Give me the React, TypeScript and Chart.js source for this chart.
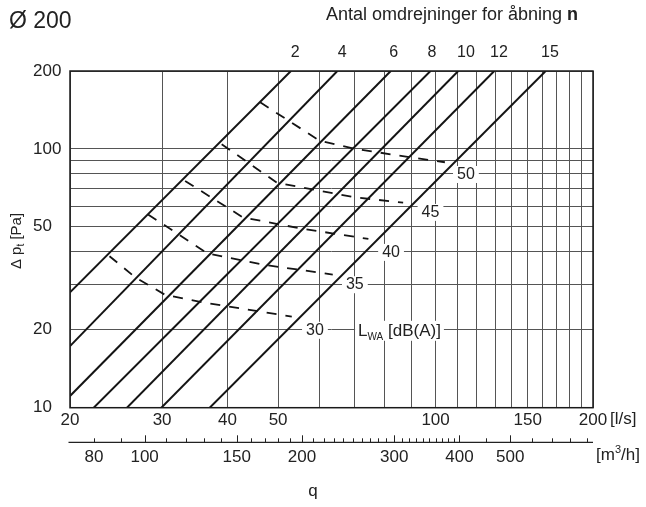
import React, { useEffect, useRef } from 'react';
import { Chart, registerables } from 'chart.js';

Chart.register(...registerables);

const FONT = "'Liberation Sans', Arial, Helvetica, sans-serif";
const INK = '#222222';

// Flow axis q [l/s]
const flowGridValues = [20, 30, 40, 50, 60, 70, 80, 90, 100, 110, 120, 130, 140, 150, 160, 170, 180, 190, 200];
const flowTickLabels = [20, 30, 40, 50, 100, 150, 200];

// Pressure axis Δp_t [Pa]
const pressureGridValues = [10, 20, 30, 40, 50, 60, 70, 80, 90, 100, 200];
const pressureTickLabels = [10, 20, 50, 100, 200];

// Secondary flow axis [m³/h]
const M3H_PER_LS = 3.6;
const m3hTickValues = [
  80, 90, 100, 110, 120, 130, 140, 150, 160, 170, 180, 190, 200, 210, 220, 230, 240, 250,
  260, 270, 280, 290, 300, 310, 320, 330, 340, 350, 360, 370, 380, 390, 400, 450, 500,
  550, 600, 650, 700,
];
const m3hMajorTicks = [100, 150, 200, 300, 400, 500];
const m3hTickLabels = [80, 100, 150, 200, 300, 400, 500];

// Opening turns n (solid diagonal lines)
const openingTurns = [2, 4, 6, 8, 10, 12, 15];
const turnStartQ = [20, 20, 20, 22.2, 25.7, 29.9, 37.0];
const turnStartP = [27.9, 17.3, 11.1, 10, 10, 10, 10];
const turnEndQ = [52.9, 64.9, 82.1, 97.8, 110.5, 129.5, 162.4];
const turnEndP = [200, 200, 200, 200, 200, 200, 200];
const turnLabelQ = [53.9, 66.3, 83.2, 98.4, 114.3, 132.2, 165.5];

// Sound power level curves L_WA [dB(A)] (dashed)
const soundLevels = [30, 35, 40, 45, 50];
const sound30Q = [23.8, 26.6, 30.4, 36.0, 53.1];
const sound30P = [38.5, 32.0, 27.3, 25.5, 22.5];
const sound35Q = [28.2, 36.7, 46.8, 63.6];
const sound35P = [55.8, 39.4, 35.7, 32.7];
const sound40Q = [33.2, 42.8, 55.1, 74.4];
const sound40P = [75.2, 54.4, 49.3, 44.9];
const sound45Q = [39.0, 49.7, 59.3, 70.1, 86.7];
const sound45P = [104.3, 74.1, 69.2, 65.0, 62.0];
const sound50Q = [46.2, 60.1, 69.5, 84.3, 104.2];
const sound50P = [151.3, 107.4, 100.4, 94.5, 88.8];
const soundCurvesQ = [sound30Q, sound35Q, sound40Q, sound45Q, sound50Q];
const soundCurvesP = [sound30P, sound35P, sound40P, sound45P, sound50P];
const soundLabelQ = [58.8, 70.1, 82.2, 97.8, 114.3];
const soundLabelP = [20, 30, 40, 57.1, 80];
const lwaLabelQ = 71.1;
const lwaLabelP = 20;

const overlayPlugin = {
  id: 'overlay',
  beforeDatasetsDraw(chart: any) {
    const { ctx, scales } = chart;
    const x = scales.x;
    const y = scales.y;
    ctx.save();
    // level labels on white boxes (interrupt the grid lines)
    ctx.font = `16px ${FONT}`;
    ctx.textAlign = 'center';
    ctx.textBaseline = 'middle';
    soundLevels.forEach((lv, i) => {
      const px = x.getPixelForValue(soundLabelQ[i]);
      const py = y.getPixelForValue(soundLabelP[i]);
      const t = String(lv);
      const w = ctx.measureText(t).width;
      ctx.fillStyle = '#ffffff';
      ctx.fillRect(px - w / 2 - 4, py - 8, w + 8, 17);
      ctx.fillStyle = INK;
      ctx.fillText(t, px, py + 0.5);
    });
    // L_WA [dB(A)]
    const lx = x.getPixelForValue(lwaLabelQ);
    const ly = y.getPixelForValue(lwaLabelP);
    const base = ly + 6.5;
    ctx.textAlign = 'left';
    ctx.textBaseline = 'alphabetic';
    ctx.font = `17px ${FONT}`;
    const wL = ctx.measureText('L').width;
    const rest = ' [dB(A)]';
    const wRest = ctx.measureText(rest).width;
    ctx.font = `10px ${FONT}`;
    const wSub = ctx.measureText('WA').width;
    const total = wL + wSub + wRest;
    ctx.fillStyle = '#ffffff';
    ctx.fillRect(lx - 3, ly - 9, total + 6, 20);
    ctx.fillStyle = INK;
    ctx.font = `17px ${FONT}`;
    ctx.fillText('L', lx, base);
    ctx.font = `10px ${FONT}`;
    ctx.fillText('WA', lx + wL, base + 4);
    ctx.font = `17px ${FONT}`;
    ctx.fillText(rest, lx + wL + wSub, base);
    ctx.restore();
  },
  afterDraw(chart: any) {
    const { ctx, chartArea: a, scales } = chart;
    const x = scales.x;
    ctx.save();
    // frame
    ctx.strokeStyle = '#1a1a1a';
    ctx.lineWidth = 1.5;
    ctx.strokeRect(a.left, a.top, a.right - a.left, a.bottom - a.top);

    ctx.fillStyle = INK;
    // opening-turn labels above the plot
    ctx.font = `16px ${FONT}`;
    ctx.textAlign = 'center';
    ctx.textBaseline = 'middle';
    openingTurns.forEach((n, i) => {
      ctx.fillText(String(n), x.getPixelForValue(turnLabelQ[i]), a.top - 18);
    });

    // main title
    ctx.textAlign = 'left';
    ctx.font = `23px ${FONT}`;
    ctx.fillText('Ø 200', 9, 21.5);

    // subtitle with bold n
    const sub = 'Antal omdrejninger for åbning ';
    ctx.font = `18px ${FONT}`;
    const wSub = ctx.measureText(sub).width;
    ctx.font = `bold 18px ${FONT}`;
    const wN = ctx.measureText('n').width;
    const sx = 452 - (wSub + wN) / 2;
    ctx.font = `18px ${FONT}`;
    ctx.fillText(sub, sx, 15);
    ctx.font = `bold 18px ${FONT}`;
    ctx.fillText('n', sx + wSub, 15);

    // y-axis title Δ p_t [Pa]
    ctx.save();
    ctx.translate(15.5, 241);
    ctx.rotate(-Math.PI / 2);
    ctx.textBaseline = 'alphabetic';
    ctx.font = `15px ${FONT}`;
    const p1 = 'Δ p';
    const p3 = ' [Pa]';
    const w1 = ctx.measureText(p1).width;
    const w3 = ctx.measureText(p3).width;
    ctx.font = `10px ${FONT}`;
    const w2 = ctx.measureText('t').width;
    let tx = -(w1 + w2 + w3) / 2;
    ctx.font = `15px ${FONT}`;
    ctx.fillText(p1, tx, 5);
    tx += w1;
    ctx.font = `10px ${FONT}`;
    ctx.fillText('t', tx, 8.5);
    tx += w2;
    ctx.font = `15px ${FONT}`;
    ctx.fillText(p3, tx, 5);
    ctx.restore();

    // [l/s] unit
    ctx.font = `17px ${FONT}`;
    ctx.textBaseline = 'middle';
    ctx.fillText('[l/s]', a.right + 17, a.bottom + 12);

    // m³/h axis
    const axY = a.bottom + 34.6;
    ctx.strokeStyle = INK;
    ctx.lineWidth = 1.3;
    ctx.beginPath();
    ctx.moveTo(a.left - 1.5, axY);
    ctx.lineTo(a.right, axY);
    ctx.stroke();
    ctx.lineWidth = 1;
    m3hTickValues.forEach((v) => {
      const px = Math.round(x.getPixelForValue(v / M3H_PER_LS)) + 0.5;
      const h = m3hMajorTicks.includes(v) ? 7 : 4;
      ctx.beginPath();
      ctx.moveTo(px, axY);
      ctx.lineTo(px, axY - h);
      ctx.stroke();
    });
    ctx.textAlign = 'center';
    ctx.font = `17px ${FONT}`;
    m3hTickLabels.forEach((v) => {
      ctx.fillText(String(v), x.getPixelForValue(v / M3H_PER_LS), axY + 15);
    });
    // [m³/h]
    ctx.textAlign = 'left';
    let ux = a.right + 3;
    const uy = axY + 13;
    ctx.fillText('[m', ux, uy);
    ux += ctx.measureText('[m').width;
    ctx.font = `11px ${FONT}`;
    ctx.fillText('3', ux, uy - 5);
    ux += ctx.measureText('3').width;
    ctx.font = `17px ${FONT}`;
    ctx.fillText('/h]', ux, uy);

    // q label
    ctx.textAlign = 'center';
    ctx.fillText('q', a.left + 243, a.bottom + 84);
    ctx.restore();
  },
};

export default function App() {
  const canvasRef = useRef<HTMLCanvasElement | null>(null);

  useEffect(() => {
    const canvas = canvasRef.current;
    if (!canvas) return;

    const turnDatasets = openingTurns.map((n, i) => ({
      label: `n = ${n}`,
      data: [
        { x: turnStartQ[i], y: turnStartP[i] },
        { x: turnEndQ[i], y: turnEndP[i] },
      ],
      showLine: true,
      borderColor: '#141414',
      borderWidth: 2,
      pointRadius: 0,
      fill: false,
    }));

    const soundDatasets = soundLevels.map((lv, i) => ({
      label: `${lv} dB(A)`,
      data: soundCurvesQ[i].map((q, j) => ({ x: q, y: soundCurvesP[i][j] })),
      showLine: true,
      borderColor: '#141414',
      borderWidth: 1.8,
      borderDash: [10, 9],
      pointRadius: 0,
      tension: 0,
      fill: false,
    }));

    const chart = new Chart(canvas, {
      type: 'scatter',
      data: { datasets: [...turnDatasets, ...soundDatasets] as any },
      options: {
        responsive: false,
        animation: false,
        layout: { padding: { left: 33, top: 71, right: 53, bottom: 0 }, autoPadding: false } as any,
        plugins: {
          legend: { display: false },
          tooltip: { enabled: false },
        },
        scales: {
          x: {
            type: 'logarithmic',
            min: 20,
            max: 200,
            afterBuildTicks: (s: any) => {
              s.ticks = flowGridValues.map((v) => ({ value: v }));
            },
            afterFit: (s: any) => {
              s.height = 99.3;
              s.paddingLeft = 0;
              s.paddingRight = 0;
            },
            ticks: {
              autoSkip: false,
              maxRotation: 0,
              minRotation: 0,
              padding: 2,
              color: INK,
              font: { family: FONT, size: 17 },
              callback: (v: any) => (flowTickLabels.includes(Number(v)) ? String(v) : ''),
            },
            grid: { color: '#555555', lineWidth: 1, drawTicks: false },
            border: { display: false },
          },
          y: {
            type: 'logarithmic',
            min: 10,
            max: 200,
            afterBuildTicks: (s: any) => {
              s.ticks = pressureGridValues.map((v) => ({ value: v }));
            },
            afterFit: (s: any) => {
              s.width = 37;
              s.paddingTop = 0;
              s.paddingBottom = 0;
            },
            ticks: {
              autoSkip: false,
              crossAlign: 'far',
              padding: 0,
              color: INK,
              font: { family: FONT, size: 17 },
              callback: (v: any) => (pressureTickLabels.includes(Number(v)) ? String(v) : ''),
            },
            grid: { color: '#555555', lineWidth: 1, drawTicks: false },
            border: { display: false },
          },
        } as any,
      },
      plugins: [overlayPlugin],
    });

    return () => {
      chart.destroy();
    };
  }, []);

  return (
    <div style={{ position: 'fixed', left: 0, top: 0, width: 646, height: 507, background: '#ffffff' }}>
      <canvas ref={canvasRef} width={646} height={507} style={{ width: 646, height: 507, display: 'block' }} />
    </div>
  );
}
